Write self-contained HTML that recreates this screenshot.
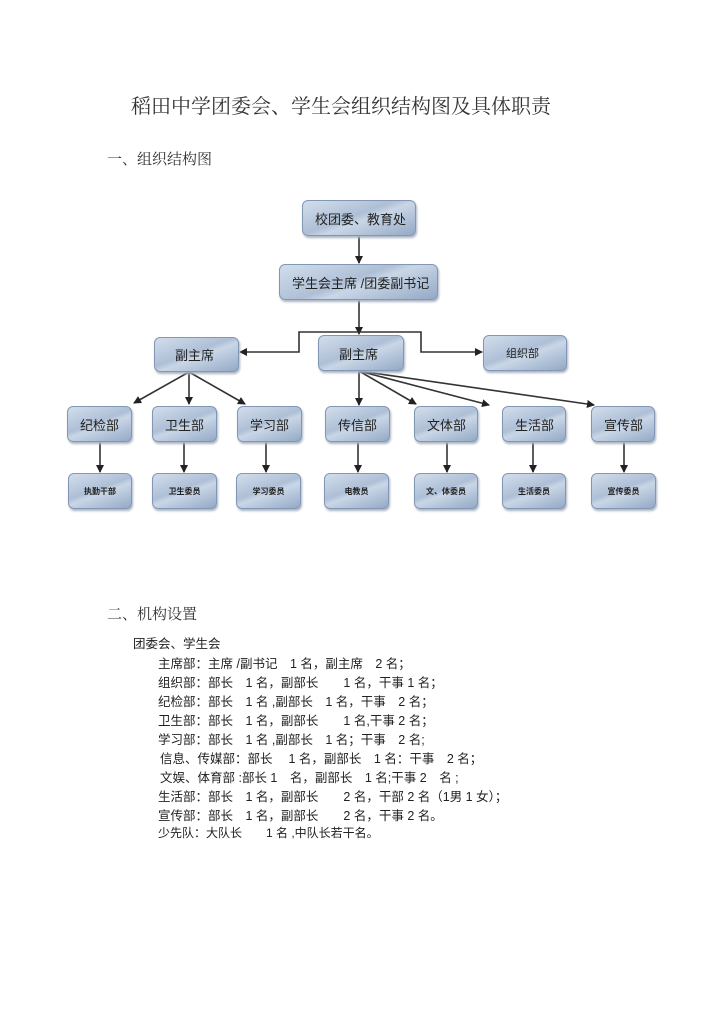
<!DOCTYPE html>
<html><head><meta charset="utf-8"><style>
body{margin:0;width:720px;height:1018px;background:#fff;position:relative;overflow:hidden;font-family:"Liberation Sans","Noto Sans CJK SC",sans-serif;color:#222}
.t{position:absolute;white-space:nowrap}
.b{position:absolute;box-sizing:border-box;border-radius:6px;border:1px solid #8297b5;background:linear-gradient(160deg,#d2deec 0%,#aebfd6 45%,#c9d6e6 55%,#93a9c6 100%);box-shadow:1px 2px 2px #aab4c2;font-size:13px;color:#222;display:flex;align-items:center;padding-left:12px}
.s{font-size:8px;font-weight:bold;justify-content:center;padding-left:0}
.l{font-size:12.5px}
</style></head><body>
<div class="t" style="left:131px;top:90px;font-size:20px;font-family:'Liberation Serif','Noto Serif CJK SC',serif;color:#333">稻田中学团委会、学生会组织结构图及具体职责</div>
<div class="t" style="left:107px;top:148px;font-size:15px;font-family:'Liberation Serif','Noto Serif CJK SC',serif;color:#333">一、组织结构图</div>
<div class="t" style="left:107px;top:603px;font-size:15px;font-family:'Liberation Serif','Noto Serif CJK SC',serif;color:#333">二、机构设置</div>

<svg style="position:absolute;left:0;top:0" width="720" height="1018">
<defs><marker id="a" markerWidth="8" markerHeight="8" refX="7" refY="4" orient="auto" markerUnits="userSpaceOnUse"><path d="M0,0 L8,4 L0,8 z" fill="#222"/></marker></defs>
<g stroke="#333" stroke-width="1.6" fill="none">
<line x1="359" y1="236" x2="359" y2="263" marker-end="url(#a)"/>
<line x1="359" y1="300" x2="359" y2="334" marker-end="url(#a)"/>
<polyline points="359,332 299,332 299,352 240,352" marker-end="url(#a)"/>
<polyline points="359,332 421,332 421,352 482,352" marker-end="url(#a)"/>
<line x1="189" y1="372" x2="134" y2="403" marker-end="url(#a)"/>
<line x1="189" y1="372" x2="189" y2="404" marker-end="url(#a)"/>
<line x1="189" y1="372" x2="245" y2="404" marker-end="url(#a)"/>
<line x1="359" y1="371" x2="359" y2="405" marker-end="url(#a)"/>
<line x1="359" y1="371" x2="416" y2="404" marker-end="url(#a)"/>
<line x1="359" y1="371" x2="489" y2="405" marker-end="url(#a)"/>
<line x1="359" y1="371" x2="594" y2="405" marker-end="url(#a)"/>
<line x1="100" y1="441" x2="100" y2="472" marker-end="url(#a)"/>
<line x1="184" y1="441" x2="184" y2="472" marker-end="url(#a)"/>
<line x1="266" y1="441" x2="266" y2="472" marker-end="url(#a)"/>
<line x1="358" y1="441" x2="358" y2="472" marker-end="url(#a)"/>
<line x1="447" y1="441" x2="447" y2="472" marker-end="url(#a)"/>
<line x1="533" y1="441" x2="533" y2="472" marker-end="url(#a)"/>
<line x1="624" y1="441" x2="624" y2="472" marker-end="url(#a)"/>
</g></svg>

<div class="b" style="left:302px;top:200px;width:114px;height:36px">校团委、教育处</div>
<div class="b" style="left:279px;top:264px;width:159px;height:36px">学生会主席 /团委副书记</div>
<div class="b" style="left:154px;top:337px;width:85px;height:35px;padding-left:20px">副主席</div>
<div class="b" style="left:318px;top:335px;width:86px;height:36px;padding-left:20px">副主席</div>
<div class="b" style="left:483px;top:335px;width:84px;height:36px;padding-left:22px;font-size:11px">组织部</div>

<div class="b" style="left:67px;top:406px;width:65px;height:36px">纪检部</div>
<div class="b" style="left:152px;top:406px;width:65px;height:36px">卫生部</div>
<div class="b" style="left:237px;top:406px;width:65px;height:36px">学习部</div>
<div class="b" style="left:325px;top:406px;width:65px;height:36px">传信部</div>
<div class="b" style="left:414px;top:406px;width:64px;height:36px">文体部</div>
<div class="b" style="left:502px;top:406px;width:64px;height:36px">生活部</div>
<div class="b" style="left:591px;top:406px;width:64px;height:36px">宣传部</div>

<div class="b s" style="left:68px;top:473px;width:64px;height:36px">执勤干部</div>
<div class="b s" style="left:152px;top:473px;width:65px;height:36px">卫生委员</div>
<div class="b s" style="left:236px;top:473px;width:65px;height:36px">学习委员</div>
<div class="b s" style="left:324px;top:473px;width:65px;height:36px">电教员</div>
<div class="b s" style="left:414px;top:473px;width:64px;height:36px">文、体委员</div>
<div class="b s" style="left:502px;top:473px;width:64px;height:36px">生活委员</div>
<div class="b s" style="left:591px;top:473px;width:65px;height:36px">宣传委员</div>

<div class="t l" style="left:133px;top:633px">团委会、学生会</div>
<div class="t l" style="left:158px;top:653px">主席部：主席 /副书记　1 名，副主席　2 名；</div>
<div class="t l" style="left:158px;top:672px">组织部：部长　1 名，副部长　　1 名，干事 1 名；</div>
<div class="t l" style="left:158px;top:691px">纪检部：部长　1 名 ,副部长　1 名，干事　2 名；</div>
<div class="t l" style="left:158px;top:710px">卫生部：部长　1 名，副部长　　1 名,干事 2 名；</div>
<div class="t l" style="left:158px;top:729px">学习部：部长　1 名 ,副部长　1 名；干事　2 名;</div>
<div class="t l" style="left:160px;top:748px">信息、传媒部：部长　 1 名，副部长　1 名：干事　2 名；</div>
<div class="t l" style="left:160px;top:767px">文娱、体育部 :部长 1　名，副部长　1 名;干事 2　名 ;</div>
<div class="t l" style="left:158px;top:786px">生活部：部长　1 名，副部长　　2 名，干部 2 名（1男 1 女）；</div>
<div class="t l" style="left:158px;top:805px">宣传部：部长　1 名，副部长　　2 名，干事 2 名。</div>
<div class="t l" style="left:158px;top:824px;font-size:12px">少先队：大队长　　1 名 ,中队长若干名。</div>
</body></html>
